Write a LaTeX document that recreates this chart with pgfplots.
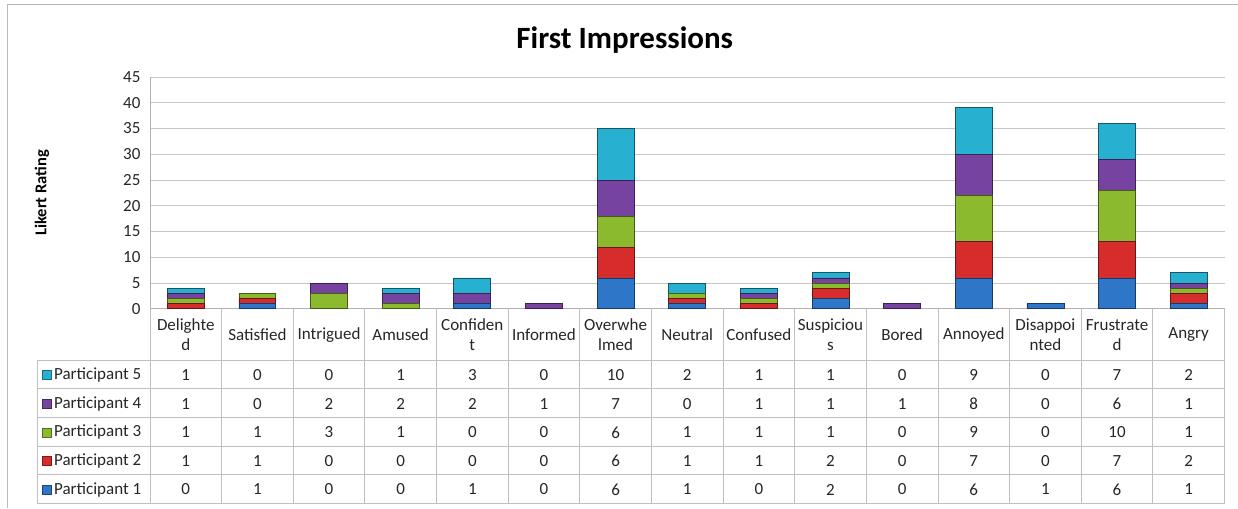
\documentclass[border=0pt]{standalone}
\usepackage{pgfplots}
\pgfplotsset{compat=1.18}
\usepackage{pgfplotstable}
\usepackage{fontspec}
\setmainfont{Carlito}
\definecolor{pA}{RGB}{46,118,200}
\definecolor{pB}{RGB}{214,44,44}
\definecolor{pC}{RGB}{140,186,46}
\definecolor{pD}{RGB}{118,68,160}
\definecolor{pE}{RGB}{40,176,208}
\pgfplotstableread{
idx p1 p2 p3 p4 p5
0  0 1 1 1 1
1  1 1 1 0 0
2  0 0 3 2 0
3  0 0 1 2 1
4  1 0 0 2 3
5  0 0 0 1 0
6  6 6 6 7 10
7  1 1 1 0 2
8  0 1 1 1 1
9  2 2 1 1 1
10 0 0 0 1 0
11 6 7 9 8 9
12 1 0 0 0 0
13 6 7 10 6 7
14 1 2 1 1 2
}\data
\newcommand{\tf}{\fontsize{17}{20}\selectfont}
\tikzset{bev/.style={fill=#1, draw=#1!50!black, line width=0.8pt}}
\begin{document}
\begin{tikzpicture}[x=1pt,y=1pt]
\path (0,0) rectangle (1238,508);
\draw[gray!55, line width=1pt] (8,0) -- (8,503) -- (1238,503);
\node[font=\fontsize{31}{35}\selectfont\bfseries] at (625,468) {First Impressions};
\node[font=\fontsize{16.5}{19}\selectfont\bfseries, rotate=90] at (42,315) {Likert Rating};
\begin{axis}[
  at={(150pt,199pt)}, anchor=south west,
  scale only axis, width=1075pt, height=232pt,
  ybar stacked, bar width=37pt,
  xmin=-0.5, xmax=14.5, ymin=0, ymax=45,
  ytick={0,5,...,45},
  xtick={0,...,14},
  xticklabels={{Delighte\\d},Satisfied,Intrigued,Amused,{Confiden\\t},Informed,{Overwhe\\lmed},Neutral,Confused,{Suspiciou\\s},Bored,Annoyed,{Disappoi\\nted},{Frustrate\\d},Angry},
  axis x line*=bottom, axis y line*=left,
  axis line style={gray!60, line width=0.8pt},
  ymajorgrids, grid style={gray!45, line width=0.8pt},
  major tick length=0pt,
  tick label style={font=\tf, text=black!85},
  yticklabel style={xshift=-6pt},
  xticklabel style={anchor=center, yshift=-26pt, align=center},
  /pgf/number format/assume math mode=true,
]
\addplot[bev=pA] table[x=idx,y=p1]{\data};
\addplot[bev=pB] table[x=idx,y=p2]{\data};
\addplot[bev=pC] table[x=idx,y=p3]{\data};
\addplot[bev=pD] table[x=idx,y=p4]{\data};
\addplot[bev=pE] table[x=idx,y=p5]{\data};
\end{axis}
\begin{axis}[
  at={(150pt,4pt)}, anchor=south west,
  scale only axis, width=1075pt, height=143pt,
  xmin=-0.5, xmax=14.5, ymin=0, ymax=5,
  hide axis, clip=false,
  every node near coord/.append style={anchor=center, font=\tf, text=black!85},
]
\addplot[draw=none, mark=none, nodes near coords, point meta=explicit symbolic] table[x=idx, y expr=0.5, meta=p1]{\data};
\addplot[draw=none, mark=none, nodes near coords, point meta=explicit symbolic] table[x=idx, y expr=1.5, meta=p2]{\data};
\addplot[draw=none, mark=none, nodes near coords, point meta=explicit symbolic] table[x=idx, y expr=2.5, meta=p3]{\data};
\addplot[draw=none, mark=none, nodes near coords, point meta=explicit symbolic] table[x=idx, y expr=3.5, meta=p4]{\data};
\addplot[draw=none, mark=none, nodes near coords, point meta=explicit symbolic] table[x=idx, y expr=4.5, meta=p5]{\data};
\end{axis}
\foreach \k in {0,...,15} \draw[gray!50, line width=0.8pt] ({150+\k*1075/15},4) -- ({150+\k*1075/15},199);
\foreach \y in {147,119,90,61,33,4} \draw[gray!50, line width=0.8pt] (37,\y) -- (1225,\y);
\draw[gray!50, line width=0.8pt] (37,4) -- (37,147);
\foreach \i/\c in {1/pA,2/pB,3/pC,4/pD,5/pE} {
  \pgfmathsetmacro{\yy}{4+(\i-0.5)*28.6}
  \fill[\c, draw=\c!60!black, line width=0.4pt] (42,\yy-4.5) rectangle ++(9,9);
  \node[anchor=west, font=\tf, text=black!85, inner sep=0pt] at (54,\yy) {Participant \i};
}
\end{tikzpicture}
\end{document}
